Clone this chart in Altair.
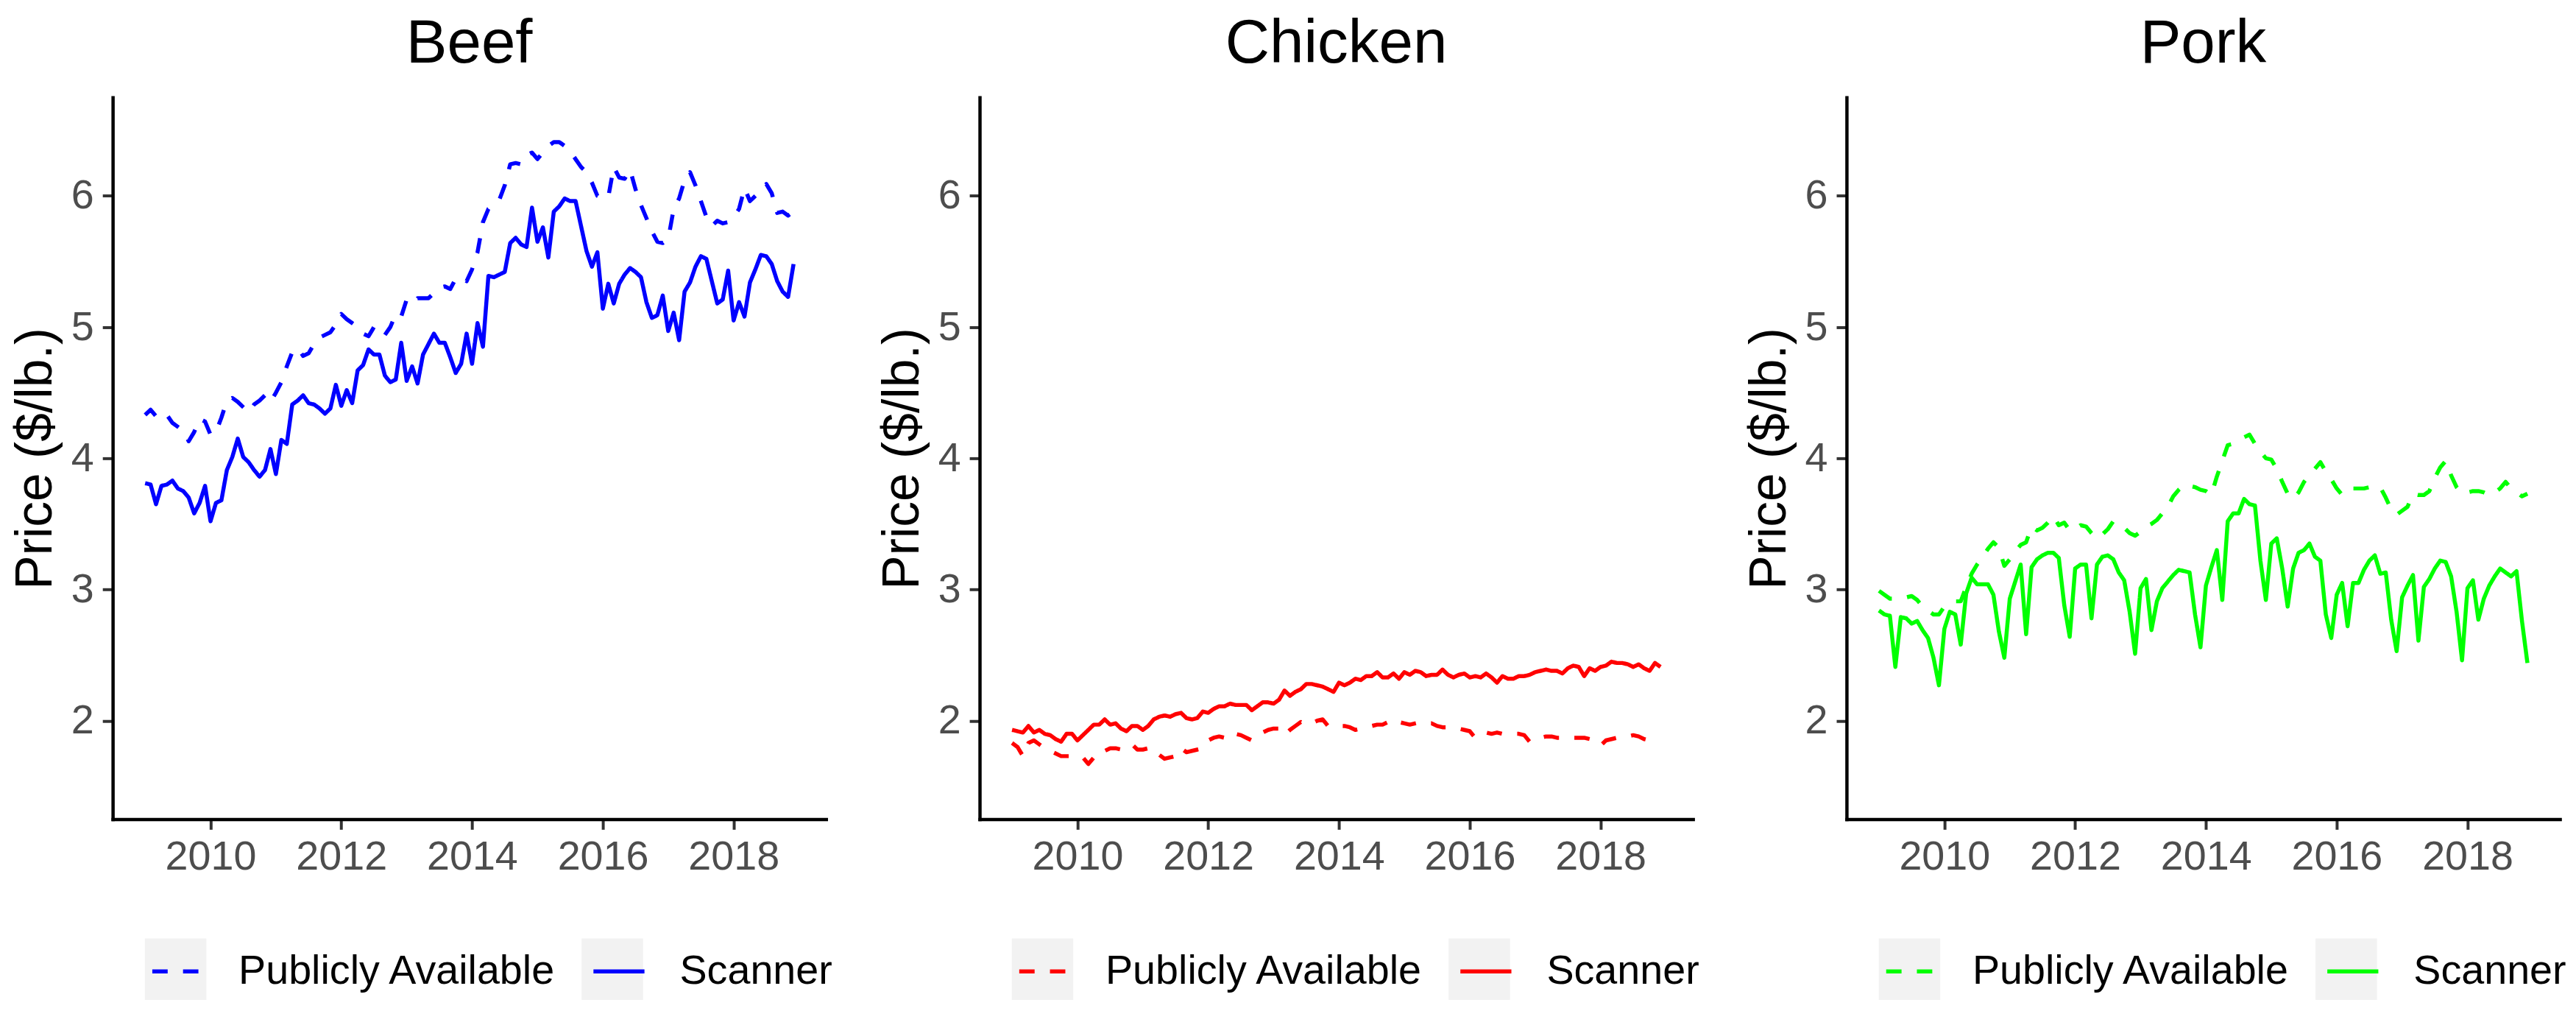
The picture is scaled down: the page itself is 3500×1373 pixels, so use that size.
import altair as alt
import pandas as pd

# Monthly observations, Jan 2009 .. Dec 2018 (120 months)
n_months = 120
t = [2009 + m / 12 for m in range(n_months)]

series_names = ["Publicly Available", "Scanner"]
tick_years = [2010, 2012, 2014, 2016, 2018]
tick_prices = [2, 3, 4, 5, 6]

beef_public = [
    4.33, 4.37, 4.32, 4.30, 4.33, 4.27, 4.24, 4.21, 4.13, 4.20,
    4.30, 4.28, 4.18, 4.20, 4.31, 4.44, 4.46, 4.43, 4.39, 4.35,
    4.41, 4.44, 4.48, 4.43, 4.50, 4.58, 4.70, 4.81, 4.84, 4.78,
    4.80, 4.87, 4.92, 4.94, 4.96, 5.02, 5.10, 5.06, 5.03, 5.00,
    4.95, 4.93, 5.00, 4.94, 4.94, 5.00, 5.10, 5.08, 5.21, 5.18,
    5.22, 5.22, 5.22, 5.26, 5.30, 5.31, 5.29, 5.37, 5.38, 5.35,
    5.44, 5.57, 5.80, 5.90, 5.93, 5.97, 6.08, 6.24, 6.25, 6.24,
    6.31, 6.33, 6.28, 6.33, 6.38, 6.41, 6.41, 6.38, 6.34, 6.28,
    6.22, 6.18, 6.10, 6.00, 5.98, 5.99, 6.22, 6.14, 6.13, 6.20,
    6.05, 5.93, 5.83, 5.73, 5.65, 5.64, 5.67, 5.90, 5.98, 6.12,
    6.18, 6.08, 5.96, 5.84, 5.77, 5.81, 5.79, 5.80, 5.84, 5.90,
    6.06, 5.96, 6.00, 6.04, 6.09, 6.02, 5.87, 5.88, 5.85, 5.88,
]
beef_scanner = [
    3.81, 3.80, 3.65, 3.79, 3.80, 3.83, 3.77, 3.75, 3.70, 3.58,
    3.66, 3.79, 3.52, 3.66, 3.68, 3.91, 4.01, 4.15, 4.01, 3.97,
    3.91, 3.86, 3.91, 4.07, 3.88, 4.14, 4.11, 4.41, 4.44, 4.48,
    4.42, 4.41, 4.38, 4.34, 4.38, 4.56, 4.40, 4.52, 4.42, 4.67,
    4.71, 4.83, 4.79, 4.79, 4.63, 4.58, 4.60, 4.88, 4.59, 4.70,
    4.57, 4.79, 4.87, 4.95, 4.88, 4.88, 4.77, 4.65, 4.72, 4.95,
    4.72, 5.03, 4.85, 5.39, 5.38, 5.40, 5.42, 5.64, 5.68, 5.63,
    5.61, 5.91, 5.65, 5.76, 5.53, 5.88, 5.92, 5.98, 5.96, 5.96,
    5.77, 5.58, 5.46, 5.57, 5.14, 5.33, 5.18, 5.33, 5.40, 5.45,
    5.42, 5.38, 5.19, 5.07, 5.09, 5.24, 4.97, 5.11, 4.90, 5.27,
    5.34, 5.46, 5.54, 5.52, 5.35, 5.18, 5.21, 5.43, 5.05, 5.19,
    5.08, 5.34, 5.44, 5.55, 5.54, 5.48, 5.35, 5.27, 5.23, 5.48,
]
chicken_public = [
    1.83, 1.80, 1.73, 1.83, 1.85, 1.82, 1.79, 1.77, 1.75, 1.73,
    1.73, 1.73, 1.73, 1.72, 1.67, 1.72, 1.77, 1.77, 1.79, 1.79,
    1.78, 1.80, 1.82, 1.78, 1.78, 1.79, 1.79, 1.74, 1.71, 1.72,
    1.73, 1.79, 1.76, 1.77, 1.78, 1.79, 1.85, 1.87, 1.88, 1.87,
    1.86, 1.90, 1.89, 1.87, 1.85, 1.87, 1.91, 1.93, 1.94, 1.94,
    1.89, 1.93, 1.96, 1.99, 1.97, 1.98, 2.00, 2.01, 1.96, 1.96,
    1.96, 1.96, 1.95, 1.93, 1.94, 1.95, 1.96, 1.97, 1.97, 1.99,
    2.01, 1.99, 1.98, 1.97, 1.98, 1.99, 1.98, 1.98, 1.96, 1.95,
    1.95, 1.95, 1.94, 1.93, 1.92, 1.87, 1.89, 1.91, 1.90, 1.91,
    1.90, 1.90, 1.90, 1.90, 1.89, 1.84, 1.86, 1.87, 1.88, 1.88,
    1.87, 1.87, 1.87, 1.87, 1.87, 1.87, 1.86, 1.84, 1.81, 1.85,
    1.86, 1.87, 1.88, 1.88, 1.89, 1.88, 1.86, 1.85, 1.85, 1.86,
]
chicken_scanner = [
    1.93, 1.92, 1.91, 1.96, 1.91, 1.93, 1.90, 1.89, 1.86, 1.84,
    1.90, 1.90, 1.85, 1.89, 1.93, 1.97, 1.97, 2.01, 1.97, 1.98,
    1.94, 1.92, 1.96, 1.96, 1.93, 1.96, 2.01, 2.03, 2.04, 2.03,
    2.05, 2.06, 2.02, 2.01, 2.02, 2.07, 2.06, 2.09, 2.11, 2.11,
    2.13, 2.12, 2.12, 2.12, 2.08, 2.11, 2.14, 2.14, 2.13, 2.16,
    2.23, 2.19, 2.22, 2.24, 2.28, 2.28, 2.27, 2.26, 2.24, 2.22,
    2.29, 2.27, 2.29, 2.32, 2.31, 2.34, 2.34, 2.37, 2.33, 2.33,
    2.36, 2.32, 2.37, 2.35, 2.38, 2.37, 2.34, 2.35, 2.35, 2.39,
    2.35, 2.33, 2.35, 2.36, 2.33, 2.34, 2.33, 2.36, 2.33, 2.29,
    2.34, 2.32, 2.32, 2.34, 2.34, 2.35, 2.37, 2.38, 2.39, 2.38,
    2.38, 2.36, 2.40, 2.42, 2.41, 2.34, 2.40, 2.38, 2.41, 2.42,
    2.45, 2.44, 2.44, 2.43, 2.41, 2.43, 2.40, 2.38, 2.44, 2.41,
]
pork_public = [
    2.99, 2.96, 2.93, 2.93, 2.94, 2.94, 2.95, 2.92, 2.87, 2.84,
    2.81, 2.81, 2.87, 2.89, 2.91, 2.91, 3.02, 3.12, 3.19, 3.25,
    3.31, 3.36, 3.32, 3.18, 3.23, 3.29, 3.34, 3.36, 3.48, 3.45,
    3.47, 3.51, 3.56, 3.49, 3.51, 3.45, 3.46, 3.49, 3.48, 3.43,
    3.39, 3.42, 3.46, 3.52, 3.50, 3.47, 3.43, 3.41, 3.44, 3.48,
    3.50, 3.53, 3.58, 3.63, 3.71, 3.76, 3.80, 3.79, 3.78, 3.76,
    3.75, 3.72, 3.86, 3.98, 4.10, 4.11, 4.13, 4.16, 4.18, 4.11,
    4.05, 4.00, 3.99, 3.92, 3.82, 3.73, 3.69, 3.74, 3.82, 3.87,
    3.92, 3.97, 3.90, 3.84, 3.77, 3.72, 3.76, 3.77, 3.77, 3.77,
    3.78, 3.79, 3.78, 3.70, 3.61, 3.57, 3.60, 3.63, 3.73, 3.72,
    3.72, 3.75, 3.85, 3.93, 3.98, 3.87, 3.78, 3.73, 3.74, 3.75,
    3.75, 3.74, 3.72, 3.74, 3.77, 3.82, 3.77, 3.74, 3.71, 3.73,
]
pork_scanner = [
    2.84, 2.81, 2.80, 2.41, 2.79, 2.78, 2.74, 2.76, 2.69, 2.63,
    2.48, 2.27, 2.70, 2.83, 2.81, 2.58, 2.97, 3.09, 3.04, 3.04,
    3.04, 2.96, 2.68, 2.48, 2.93, 3.06, 3.19, 2.66, 3.17, 3.23,
    3.26, 3.28, 3.28, 3.24, 2.88, 2.64, 3.16, 3.19, 3.19, 2.78,
    3.19, 3.25, 3.26, 3.23, 3.13, 3.07, 2.83, 2.51, 3.01, 3.08,
    2.69, 2.91, 3.01, 3.06, 3.11, 3.15, 3.14, 3.13, 2.81, 2.56,
    3.03, 3.17, 3.30, 2.92, 3.52, 3.58, 3.58, 3.69, 3.65, 3.64,
    3.22, 2.92, 3.35, 3.39, 3.16, 2.87, 3.16, 3.28, 3.30, 3.35,
    3.25, 3.22, 2.81, 2.63, 2.96, 3.05, 2.72, 3.05, 3.05, 3.15,
    3.22, 3.26, 3.12, 3.13, 2.77, 2.53, 2.94, 3.03, 3.11, 2.61,
    3.02, 3.08, 3.16, 3.22, 3.21, 3.10, 2.83, 2.46, 3.01, 3.07,
    2.77, 2.93, 3.03, 3.10, 3.16, 3.13, 3.10, 3.14, 2.76, 2.44,
]

FONT = "Liberation Sans"
PANEL_W = 975
PANEL_H = 986
KEY = 84                  # legend key box side (px)
LEG_X, LEG_Y = 44, 1149   # legend position relative to plot area
LABEL_OFFSET, COL_PAD = 38, 39
PA_LABEL_W = 436          # rendered width of "Publicly Available" at 56px


def panel(title, color, public, scanner):
    df = pd.DataFrame({
        "t": t + t,
        "price": public + scanner,
        "Source": [series_names[0]] * n_months + [series_names[1]] * n_months,
    })
    df["Key"] = df["Source"]

    x = alt.X(
        "t:Q",
        scale=alt.Scale(domain=[2008.504, 2019.413], nice=False, zero=False),
        axis=alt.Axis(values=tick_years, format="d", title=None, grid=False,
                      domainColor="black", domainWidth=4.5, domainCap="square",
                      tickColor="#333333", tickWidth=4, tickSize=14,
                      labelFontSize=56, labelColor="#4D4D4D", labelPadding=10,
                      labelFont=FONT),
    )
    y = alt.Y(
        "price:Q",
        scale=alt.Scale(domain=[1.25, 6.75], nice=False, zero=False),
        axis=alt.Axis(values=tick_prices, format="d", title="Price ($/lb.)", grid=False,
                      domainColor="black", domainWidth=4.5, domainCap="square",
                      tickColor="#333333", tickWidth=4, tickSize=14,
                      labelFontSize=56, labelColor="#4D4D4D", labelPadding=12,
                      labelFont=FONT, titleFont=FONT, titleFontSize=70,
                      titleFontWeight="normal", titleColor="black", titlePadding=12),
    )

    common_legend = dict(
        title=None, orient="none", legendX=LEG_X, legendY=LEG_Y,
        direction="horizontal", symbolSize=KEY * KEY, padding=0,
        labelFont=FONT, labelFontSize=56, labelLimit=0,
    )

    # grey key backgrounds (legend only; no marks drawn, no label text)
    boxes = alt.Chart(df).mark_point(filled=True, color="#F2F2F2").encode(
        x=x, y=y,
        shape=alt.Shape(
            "Key:N",
            scale=alt.Scale(domain=series_names, range=["square", "square"]),
            legend=alt.Legend(symbolFillColor="#F2F2F2", symbolStrokeWidth=0,
                              symbolStrokeColor="#F2F2F2", symbolOpacity=1,
                              labelExpr="''", labelOffset=0,
                              columnPadding=LABEL_OFFSET + PA_LABEL_W + COL_PAD,
                              **common_legend),
        ),
    ).transform_filter("datum.price > 100")

    lines = alt.Chart(df).mark_line(
        color=color, strokeWidth=5.5, strokeJoin="round", strokeCap="butt"
    ).encode(
        x=x, y=y,
        strokeDash=alt.StrokeDash(
            "Source:N",
            scale=alt.Scale(range=[[21, 21], [1, 0]]),
            legend=alt.Legend(symbolType="M-0.83,0H0.83", symbolStrokeWidth=5.5,
                              symbolStrokeColor=color, labelColor="black",
                              labelOffset=LABEL_OFFSET, columnPadding=COL_PAD,
                              **common_legend),
        ),
    )

    return alt.layer(boxes, lines).properties(
        width=PANEL_W, height=PANEL_H,
        title=alt.TitleParams(title, font=FONT, fontSize=84, fontWeight="normal",
                              color="black", anchor="middle", offset=30),
    )


chart = alt.hconcat(
    panel("Beef", "#0000FF", beef_public, beef_scanner),
    panel("Chicken", "#FF0000", chicken_public, chicken_scanner),
    panel("Pork", "#00FF00", pork_public, pork_scanner),
    spacing=60,
).resolve_scale(
    x="independent", y="independent", strokeDash="independent", shape="independent"
).resolve_legend(
    strokeDash="independent", shape="independent"
).properties(
    padding={"left": 5, "top": 6, "right": 5, "bottom": 0}
).configure(
    font=FONT, background="white"
).configure_view(stroke=None)

chart.save("out.html", embed_options={"renderer": "svg", "actions": False})
